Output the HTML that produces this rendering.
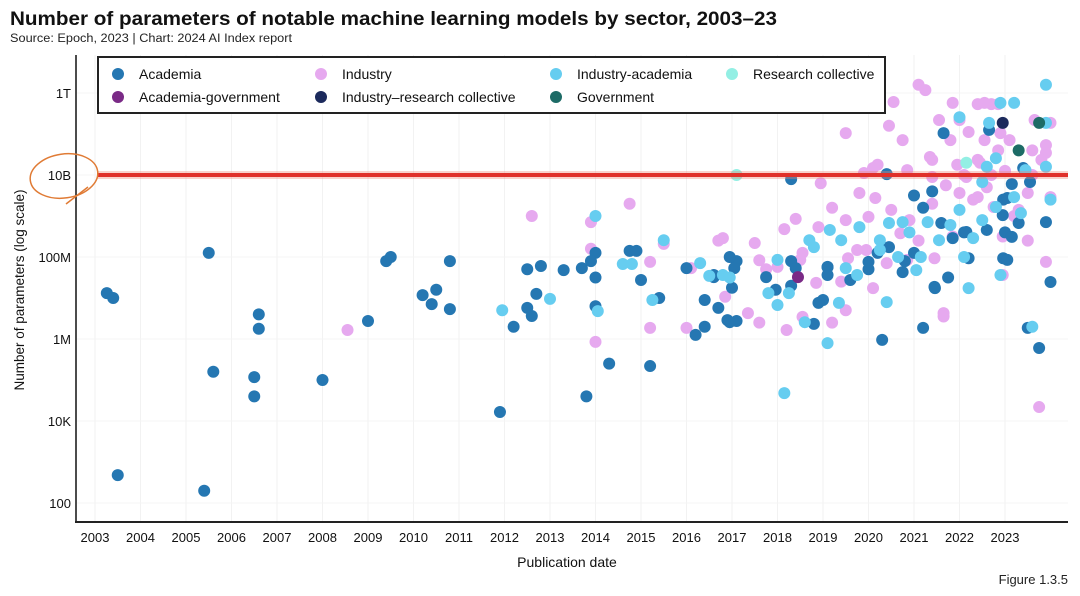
<!DOCTYPE html>
<html><head><meta charset="utf-8">
<style>
html,body{margin:0;padding:0;background:#fff;}
svg{display:block;font-family:"Liberation Sans",sans-serif;}
</style></head>
<body>
<svg id="chart" width="1080" height="596" viewBox="0 0 1080 596" xmlns="http://www.w3.org/2000/svg">
  <text x="10" y="25" font-size="19" font-weight="bold" fill="#111" textLength="767" lengthAdjust="spacingAndGlyphs">Number of parameters of notable machine learning models by sector, 2003–23</text>
  <text x="10" y="42" font-size="11.5" fill="#222" textLength="282" lengthAdjust="spacingAndGlyphs">Source: Epoch, 2023 | Chart: 2024 AI Index report</text>
  <g id="grid"></g>
  <g id="points"></g>
  <line x1="76" y1="55" x2="76" y2="523" stroke="#111" stroke-width="1.5"/>
  <line x1="75" y1="522" x2="1068" y2="522" stroke="#222" stroke-width="2"/>
  <g id="yticks"></g>
  <g id="xticks"></g>
  <text transform="translate(24,290) rotate(-90)" text-anchor="middle" font-size="13.5" fill="#111">Number of parameters (log scale)</text>
  <text x="567" y="567" text-anchor="middle" font-size="14" fill="#111">Publication date</text>
  <text x="1068" y="584" text-anchor="end" font-size="13" fill="#222">Figure 1.3.5</text>
  <line x1="97" y1="175" x2="1068" y2="175" stroke="#f08070" stroke-width="8" opacity="0.35"/>
  <line x1="97" y1="175" x2="1068" y2="175" stroke="#e0302a" stroke-width="4"/>
  <ellipse cx="64" cy="176" rx="34" ry="22" fill="none" stroke="#e07b35" stroke-width="1.5" transform="rotate(-8 64 176)"/>
  <line x1="66" y1="204" x2="88" y2="187" stroke="#e07b35" stroke-width="1.5"/>
  <g>
    <rect x="98" y="57" width="787" height="56" fill="#fff" stroke="#222" stroke-width="2"/>
    <g id="legend"></g>
  </g>
</svg>
<script>
const yTickLogs = [12, 10, 8, 6, 4, 2];
const yTickLabels = ["1T", "10B", "100M", "1M", "10K", "100"];
const xTickYears = [2003,2004,2005,2006,2007,2008,2009,2010,2011,2012,2013,2014,2015,2016,2017,2018,2019,2020,2021,2022,2023];
const sectorNames = ["Academia","Academia-government","Industry","Industry–research collective","Industry-academia","Government","Research collective"];
const sectorColors = ["#2577b2","#7a2a86","#e6a9ef","#1c2a5c","#66cdf0","#1d6b66","#93efe4"];

const academia = [[2003.26,7.12],[2003.4,7.0],[2003.5,2.68],[2005.5,8.1],[2005.4,2.3],[2005.6,5.2],[2006.6,6.6],[2006.6,6.25],[2006.5,5.07],[2006.5,4.6],[2008.0,5.0],[2009.0,6.44],[2009.4,7.9],[2009.5,8.0],[2010.2,7.07],[2010.4,6.85],[2010.5,7.2],[2010.8,7.9],[2010.8,6.73],[2011.9,4.22],[2012.2,6.3],[2012.5,7.7],[2012.5,6.76],[2012.6,6.56],[2012.7,7.1],[2012.8,7.78],[2013.3,7.68],[2013.8,4.6],[2013.7,7.73],[2014.0,8.1],[2014.0,7.5],[2014.0,6.8],[2014.3,5.4],[2013.9,7.9],[2014.75,8.15],[2014.9,8.15],[2015.0,7.44],[2015.2,5.34],[2015.4,7.0],[2016.0,7.73],[2016.2,6.1],[2016.4,6.3],[2016.6,7.56],[2016.7,6.76],[2016.9,6.46],[2017.1,6.44],[2017.0,7.25],[2017.1,7.9],[2018.3,9.9],[2017.96,7.2],[2018.3,7.9],[2018.3,7.3],[2018.8,6.37],[2019.0,6.95],[2019.1,7.75],[2020.0,7.7],[2020.2,8.1],[2020.3,5.98],[2020.4,10.02],[2020.8,7.9],[2021.0,9.5],[2021.2,9.2],[2021.2,6.27],[2021.4,9.6],[2021.46,7.24],[2021.75,7.5],[2022.1,8.6],[2022.2,7.97],[2022.6,8.66],[2021.65,11.02],[2022.65,11.1],[2022.96,7.97],[2022.96,9.4],[2023.0,8.6],[2023.3,8.83],[2023.5,6.27],[2023.75,5.78],[2023.9,8.85],[2024.0,7.39],[2023.15,9.78],[2023.55,9.83],[2023.4,10.17],[2016.95,8.0],[2017.05,7.73],[2016.6,7.51],[2016.4,6.95],[2016.95,6.41],[2017.75,7.51],[2018.4,7.73],[2019.1,7.76],[2019.1,7.56],[2018.9,6.88],[2019.6,7.44],[2020.0,7.88],[2020.45,8.24],[2020.75,7.63],[2021.0,8.1],[2021.6,8.83],[2021.85,8.46],[2022.15,8.61],[2023.05,7.93],[2023.15,8.49],[2022.95,9.02],[2023.05,9.44],[2021.45,7.27]];

const industry = [[2008.55,6.22],[2012.6,9.0],[2013.9,8.85],[2013.9,8.2],[2014.75,9.3],[2014.0,5.93],[2015.2,7.88],[2015.2,6.27],[2015.5,8.32],[2016.0,6.27],[2016.1,7.73],[2016.7,8.4],[2023.75,4.34],[2021.65,6.55],[2016.8,8.46],[2017.5,8.34],[2018.15,8.68],[2018.4,8.93],[2019.2,9.2],[2018.9,8.73],[2019.5,8.9],[2020.0,8.98],[2020.5,9.15],[2020.9,8.9],[2019.8,9.56],[2020.15,9.44],[2021.4,9.3],[2022.0,9.56],[2022.4,9.46],[2023.5,9.56],[2024.0,9.46],[2023.5,8.4],[2023.9,7.88],[2022.95,8.5],[2023.2,9.0],[2018.95,9.8],[2019.9,10.05],[2020.85,10.12],[2021.4,9.95],[2022.15,9.95],[2022.45,10.3],[2020.2,10.25],[2021.35,10.44],[2023.9,10.54],[2017.6,7.92],[2017.75,7.7],[2018.55,8.1],[2018.85,7.37],[2019.4,7.4],[2019.55,7.97],[2019.95,8.17],[2020.1,7.24],[2020.4,7.85],[2020.85,7.93],[2021.1,8.4],[2021.45,7.97],[2016.85,7.03],[2017.35,6.63],[2017.6,6.4],[2018.2,6.22],[2018.55,6.54],[2019.2,6.4],[2019.5,6.7],[2021.65,6.63],[2022.95,7.56],[2023.3,9.15],[2018.0,7.76],[2018.5,7.93],[2019.75,8.17],[2020.7,8.58],[2021.85,8.5],[2022.3,9.4],[2022.75,9.22],[2019.5,11.02],[2020.45,11.2],[2020.55,11.78],[2021.1,12.2],[2021.25,12.07],[2021.85,11.76],[2022.4,11.73],[2022.55,11.76],[2022.7,11.73],[2022.85,11.73],[2021.8,10.85],[2022.0,11.34],[2022.2,11.05],[2022.55,10.85],[2022.9,11.02],[2023.65,11.34],[2023.9,10.73],[2024.0,11.27],[2023.8,10.37],[2023.6,10.6],[2023.1,10.85],[2021.55,11.34],[2020.75,10.85],[2021.4,10.37],[2022.4,10.37],[2022.85,10.6],[2021.95,10.25],[2020.1,10.17],[2022.1,10.0],[2022.7,10.0],[2023.0,10.1],[2021.7,9.75],[2022.6,9.7],[2023.6,10.0]];

const industryAcademia = [[2011.95,6.7],[2013.0,6.98],[2014.0,9.0],[2014.05,6.68],[2014.6,7.83],[2014.8,7.83],[2015.25,6.95],[2015.5,8.41],[2016.3,7.85],[2016.5,7.54],[2016.8,7.56],[2018.15,4.68],[2018.6,6.41],[2019.1,5.9],[2016.95,7.5],[2017.8,7.12],[2018.0,6.83],[2018.25,7.12],[2018.0,7.93],[2018.7,8.41],[2018.8,8.24],[2019.15,8.66],[2019.4,8.41],[2019.8,8.73],[2020.25,8.41],[2020.45,8.83],[2020.75,8.85],[2020.25,8.17],[2020.65,8.0],[2021.05,7.68],[2021.15,8.0],[2021.55,8.41],[2021.8,8.78],[2022.0,9.15],[2022.3,8.46],[2022.5,8.9],[2022.8,9.22],[2023.2,9.46],[2023.35,9.07],[2024.0,9.4],[2022.1,8.0],[2022.2,7.24],[2020.4,6.9],[2019.35,6.88],[2019.75,7.56],[2019.5,7.73],[2023.6,6.3],[2022.9,7.56],[2023.45,10.12],[2023.9,10.2],[2022.5,9.83],[2022.9,11.76],[2023.2,11.76],[2022.65,11.27],[2023.9,11.27],[2023.9,12.2],[2022.6,10.2],[2022.8,10.41],[2022.0,11.41],[2021.3,8.85],[2020.9,8.6]];

const academiaGovernment = [[2018.45,7.51]];
const industryResearch = [[2022.95,11.27]];
const government = [[2023.75,11.27],[2023.3,10.6]];
const researchCollective = [[2017.1,10.0],[2022.15,10.3]];

const NS = "http://www.w3.org/2000/svg";
function xs(year){ return 95 + (year - 2003) * 45.5; }
function ys(lg){ return 93 + (12 - lg) * 41; }
function mk(tag, attrs, parent){
  const e = document.createElementNS(NS, tag);
  for (const k in attrs) e.setAttribute(k, attrs[k]);
  parent.appendChild(e);
  return e;
}

const grid = document.getElementById('grid');
xTickYears.forEach(function(yr){
  const l = mk('line', {x1: xs(yr), y1: 55, x2: xs(yr), y2: 521, stroke: '#f2f2f2', 'stroke-width': 1}, grid);
  
  
});
yTickLogs.forEach(function(lg){
  const l = mk('line', {x1: 77, y1: ys(lg), x2: 1068, y2: ys(lg), stroke: '#f4f4f4', 'stroke-width': 1}, grid);
  
  
});

const yt = document.getElementById('yticks');
yTickLogs.forEach(function(lg, i){
  const t = mk('text', {x: 71, y: ys(lg) + 5, 'text-anchor': 'end', 'font-size': 13, fill: '#111'}, yt);
  t.textContent = yTickLabels[i];
  
  
});
const xt = document.getElementById('xticks');
xTickYears.forEach(function(yr){
  const t = mk('text', {x: xs(yr), y: 542, 'text-anchor': 'middle', 'font-size': 13, fill: '#111'}, xt);
  t.textContent = String(yr);
  
  
});

const pts = document.getElementById('points');
function drawSeries(data, color, name){
  data.forEach(function(d){
    const c = mk('circle', {cx: xs(d[0]), cy: ys(d[1]), r: 6, fill: color}, pts);
    
    
  });
}
drawSeries(industry, sectorColors[2], 'industry-point');
drawSeries(academia, sectorColors[0], 'academia-point');
drawSeries(industryAcademia, sectorColors[4], 'industry-academia-point');
drawSeries(researchCollective, sectorColors[6], 'research-collective-point');
drawSeries(government, sectorColors[5], 'government-point');
drawSeries(industryResearch, sectorColors[3], 'industry-research-point');
drawSeries(academiaGovernment, sectorColors[1], 'academia-government-point');

const legendG = document.getElementById('legend');
const legendX = [118, 321, 556, 732];
const legendOrder = [[0,0,0],[2,1,0],[4,2,0],[6,3,0],[1,0,1],[3,1,1],[5,2,1]];
legendOrder.forEach(function(o){
  const x = legendX[o[1]], y = 74 + o[2] * 23;
  const c = mk('circle', {cx: x, cy: y, r: 6, fill: sectorColors[o[0]]}, legendG);
  
  
  const t = mk('text', {x: x + 21, y: y + 5, 'font-size': 14, fill: '#111'}, legendG);
  t.textContent = sectorNames[o[0]];
  
  
});
</script>
</body></html>
